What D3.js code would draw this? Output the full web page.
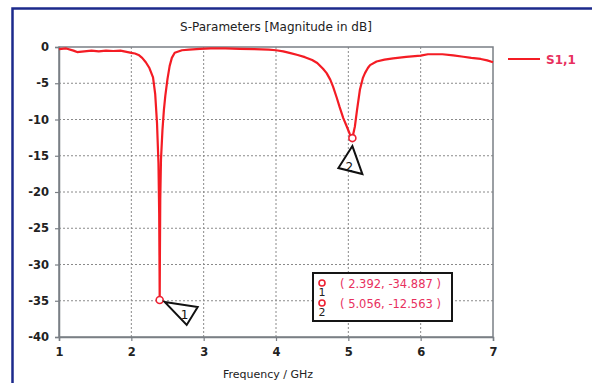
<!DOCTYPE html>
<html>
<head>
<meta charset="utf-8">
<script src="https://cdn.jsdelivr.net/npm/d3@7"></script>
<style>
  body { margin: 0; background: #fff; }
  svg { display: block; font-family: "DejaVu Sans", Verdana, sans-serif; }
</style>
</head>
<body>
<div id="chart"></div>
<script>
// S1,1 trace
var freqGHz = [1.0, 1.1, 1.2, 1.25, 1.35, 1.45, 1.55, 1.65, 1.75, 1.85, 1.95, 2.0, 2.05, 2.1, 2.15, 2.2, 2.25, 2.3, 2.33, 2.355, 2.375, 2.385, 2.39, 2.392,
  2.395, 2.4, 2.41, 2.43, 2.45, 2.47, 2.5, 2.53, 2.56, 2.6, 2.7, 2.8, 2.95, 3.1, 3.3, 3.5, 3.7, 3.9, 4.0, 4.1, 4.2, 4.3, 4.4, 4.5, 4.57, 4.65,
  4.7, 4.75, 4.79, 4.84, 4.88, 4.93, 4.98, 5.02, 5.056, 5.09, 5.12, 5.16, 5.2, 5.23, 5.27, 5.3, 5.39, 5.5, 5.62, 5.8, 6.0, 6.1, 6.3, 6.45,
  6.59, 6.7, 6.83, 6.92, 7.0];
var s11dB = [-0.3, -0.2, -0.5, -0.7, -0.6, -0.5, -0.6, -0.5, -0.55, -0.5, -0.7, -0.8, -0.9, -1.1, -1.5, -2.1, -2.9, -4.2, -6.5, -10.5, -16, -23, -31, -34.887,
  -29, -21, -15.5, -11.5, -8.7, -6.7, -4.4, -2.6, -1.5, -0.8, -0.45, -0.35, -0.25, -0.2, -0.2, -0.25, -0.3, -0.35, -0.45, -0.6, -0.85, -1.1, -1.4, -1.8, -2.2, -3.0,
  -3.6, -4.5, -5.5, -7.0, -8.3, -9.8, -11.0, -12.0, -12.563, -11.0, -8.7, -5.9, -4.3, -3.6, -2.9, -2.5, -2.0, -1.75, -1.56, -1.35, -1.2, -1.0, -1.0, -1.15,
  -1.34, -1.5, -1.65, -1.85, -2.1];

var xTicks = [1, 2, 3, 4, 5, 6, 7];
var yTicks = [0, -5, -10, -15, -20, -25, -30, -35, -40];

var markerIds = ["1", "2"];
var markerFreq = [2.392, 5.056];
var markerDB = [-34.887, -12.563];

var W = 592, H = 383;
var margin = {top: 47, right: 99, bottom: 46, left: 59},
    width = W - margin.left - margin.right,
    height = H - margin.top - margin.bottom;

var svg = d3.select("#chart")
  .append("svg")
    .attr("width", W)
    .attr("height", H);

// outer blue frame
svg.append("rect")
  .attr("x", 12.5).attr("y", 8.5)
  .attr("width", 640).attr("height", 420)
  .attr("fill", "none")
  .attr("stroke", "#1c2a8c")
  .attr("stroke-width", 2.5);

svg.append("text")
  .attr("x", margin.left + width / 2)
  .attr("y", 31)
  .attr("text-anchor", "middle")
  .style("font-size", "12px")
  .style("fill", "#222")
  .text("S-Parameters [Magnitude in dB]");

var g = svg.append("g")
  .attr("transform", "translate(" + margin.left + "," + margin.top + ")");

var x = d3.scaleLinear().domain([1, 7]).range([0, width]);
var y = d3.scaleLinear().domain([-40, 0]).range([height, 0]);

// dotted grid
g.selectAll(".vgrid")
  .data(xTicks.slice(1, -1))
  .enter().append("line")
    .attr("x1", function(d) { return x(d); })
    .attr("x2", function(d) { return x(d); })
    .attr("y1", 0).attr("y2", height)
    .attr("stroke", "#8a8a8a")
    .attr("stroke-dasharray", "2,2");
g.selectAll(".hgrid")
  .data(yTicks.slice(1, -1))
  .enter().append("line")
    .attr("y1", function(d) { return y(d); })
    .attr("y2", function(d) { return y(d); })
    .attr("x1", 0).attr("x2", width)
    .attr("stroke", "#8a8a8a")
    .attr("stroke-dasharray", "2,2");

// plot frame
g.append("rect")
  .attr("width", width).attr("height", height)
  .attr("fill", "none")
  .attr("stroke", "#7a7f85")
  .attr("stroke-width", 1.5);

var fmt = function(d) { return String(d); };
var xAxis = g.append("g")
  .attr("transform", "translate(0," + height + ")")
  .call(d3.axisBottom(x).tickValues(xTicks).tickSize(4).tickFormat(fmt));
var yAxis = g.append("g")
  .call(d3.axisLeft(y).tickValues(yTicks).tickSize(4).tickFormat(fmt).tickPadding(6));

[xAxis, yAxis].forEach(function(a) {
  a.select(".domain").attr("stroke", "#7a7f85").attr("stroke-width", 1.5);
  a.selectAll(".tick line").attr("stroke", "#7a7f85").attr("stroke-width", 1.2);
  a.selectAll("text")
    .style("font-family", "DejaVu Sans, sans-serif")
    .style("font-size", "11.5px")
    .style("font-weight", "bold")
    .style("fill", "#222");
});
xAxis.selectAll("text").attr("dy", "1.05em");

svg.append("text")
  .attr("x", 268)
  .attr("y", 378)
  .attr("text-anchor", "middle")
  .style("font-size", "11px")
  .style("fill", "#222")
  .text("Frequency / GHz");

// trace
var line = d3.line()
  .x(function(d, i) { return x(freqGHz[i]); })
  .y(function(d) { return y(d); });

g.append("path")
  .datum(s11dB)
  .attr("fill", "none")
  .attr("stroke", "#f41c24")
  .attr("stroke-width", 2.2)
  .attr("stroke-linejoin", "round")
  .attr("d", line);

// markers on the curve
g.selectAll(".mk")
  .data(markerFreq)
  .enter().append("circle")
    .attr("cx", function(d) { return x(d); })
    .attr("cy", function(d, i) { return y(markerDB[i]); })
    .attr("r", 3.5)
    .attr("fill", "#fff")
    .attr("stroke", "#ee2233")
    .attr("stroke-width", 1.6);

// triangle flags next to markers
var flags = [
  {pts: [[5, 2], [38, 7], [27, 25]], lx: 25, ly: 19},
  {pts: [[0, 8], [-14, 30], [10, 36]], lx: -3, ly: 33}
];
flags.forEach(function(f, i) {
  var px = x(markerFreq[i]), py = y(markerDB[i]);
  g.append("path")
    .attr("d", "M" + f.pts.map(function(p) { return (px + p[0]) + "," + (py + p[1]); }).join("L") + "Z")
    .attr("fill", "#fff")
    .attr("stroke", "#111")
    .attr("stroke-width", 2);
  g.append("text")
    .attr("x", px + f.lx).attr("y", py + f.ly)
    .attr("text-anchor", "middle")
    .style("font-size", "12px")
    .style("fill", "#111")
    .text(markerIds[i]);
});

// marker value box
var box = svg.append("g").attr("transform", "translate(313,273)");
box.append("rect")
  .attr("width", 139).attr("height", 48)
  .attr("fill", "#fff")
  .attr("stroke", "#151515")
  .attr("stroke-width", 2);
markerIds.forEach(function(id, i) {
  var ry = 10 + i * 20;
  box.append("circle")
    .attr("cx", 9).attr("cy", ry)
    .attr("r", 3)
    .attr("fill", "#fff")
    .attr("stroke", "#ee2233")
    .attr("stroke-width", 1.6);
  box.append("text")
    .attr("x", 9).attr("y", ry + 13)
    .attr("text-anchor", "middle")
    .style("font-size", "11px")
    .style("fill", "#222")
    .text(id);
  box.append("text")
    .attr("x", 27).attr("y", ry + 5)
    .style("font-size", "11.5px")
    .style("fill", "#e8305e")
    .text("( " + markerFreq[i].toFixed(3) + ", " + markerDB[i].toFixed(3) + " )");
});

// legend
svg.append("line")
  .attr("x1", 508).attr("x2", 540)
  .attr("y1", 59).attr("y2", 59)
  .attr("stroke", "#f41c24")
  .attr("stroke-width", 2);
svg.append("text")
  .attr("x", 546).attr("y", 63.5)
  .style("font-size", "12px")
  .style("font-weight", "bold")
  .style("fill", "#e8305e")
  .text("S1,1");
</script>
</body>
</html>
